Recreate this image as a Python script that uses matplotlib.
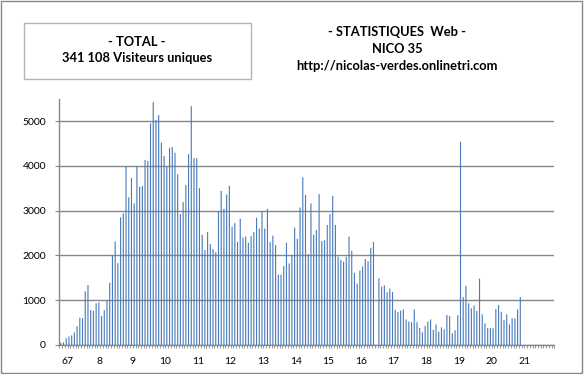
import matplotlib.pyplot as plt
from matplotlib.patches import Rectangle
import numpy as np

# monthly unique visitors (one bar per month, a zero where data is missing)
visits = [
    50, 60, 150, 190, 215, 280, 420, 610, 600, 1200,
    1340, 780, 760, 930, 950, 650, 780, 1000, 1390, 1990,
    2310, 1830, 2850, 2940, 3980, 3300, 3730, 3160, 3980, 3530,
    3550, 4130, 4110, 4950, 5420, 5020, 5130, 4520, 4220, 3980,
    4400, 4420, 4290, 3810, 2920, 3190, 3570, 4260, 5330, 4170,
    4170, 3500, 2460, 2120, 2520, 2250, 2140, 2070, 2980, 3440,
    3040, 3360, 3550, 2640, 2720, 2300, 2820, 2400, 2420, 2280,
    2430, 2520, 2840, 2600, 2980, 2600, 3040, 2300, 2440, 2230,
    1570, 1570, 1760, 2280, 1820, 2010, 2620, 2370, 3070, 3740,
    3350, 2030, 3160, 2460, 2570, 3370, 2320, 2340, 2680, 2920,
    3330, 2680, 1970, 1900, 1860, 1970, 2420, 2100, 1610, 1370,
    1660, 1750, 1920, 1870, 2170, 2300, 0, 1490, 1300, 1330,
    1180, 1260, 1180, 785, 735, 770, 795, 570, 525, 510,
    795, 510, 380, 285, 425, 525, 570, 340, 460, 295,
    395, 350, 670, 645, 260, 330, 665, 4540, 1070, 1320,
    930, 820, 880, 760, 1480, 685, 485, 380, 375, 375,
    800, 890, 740, 560, 685, 460, 595, 595, 795, 1070,
]
year_labels = ["67", "8", "9", "10", "11", "12", "13", "14",
               "15", "16", "17", "18", "19", "20", "21"]
n_slots = 182

plt.rcParams['font.family'] = ['Lato', 'DejaVu Sans']

fig = plt.figure(figsize=(5.84, 3.74), dpi=100)
fig.patch.set_facecolor('w')
ax = fig.add_axes([58.6 / 584, 29 / 374, 495.7 / 584, 246.4 / 374])

grey = '#878787'
x = np.arange(len(visits))
ax.bar(x, visits, width=0.42, color='#4a7bbb', linewidth=0, snap=False, zorder=3)

ax.set_xlim(-0.8, n_slots - 0.5)
ax.set_ylim(0, 5500)
ax.set_yticks(np.arange(0, 5001, 1000))
ax.yaxis.grid(True, color=grey, linewidth=1.0)
ax.set_axisbelow(True)

# year labels every 12 months, small marks at each month boundary
ax.set_xticks(2.4 + 12 * np.arange(len(year_labels)))
ax.set_xticklabels(year_labels)
ax.set_xticks(np.arange(-0.5, n_slots, 1), minor=True)
ax.tick_params(axis='x', which='major', length=0, pad=9, labelsize=7.5)
ax.tick_params(axis='x', which='minor', length=2.5, width=0.6, color=grey)
ax.tick_params(axis='y', length=3, width=0.8, color=grey, pad=6, labelsize=7.5)

for side in ['top', 'right']:
    ax.spines[side].set_visible(False)
for side in ['left', 'bottom']:
    ax.spines[side].set_color(grey)
    ax.spines[side].set_linewidth(1.0)

# header: boxed total on the left, site info on the right
box = Rectangle((24 / 584, 1 - 79 / 374), 227 / 584, 56 / 374,
                transform=fig.transFigure, fill=False, ec='#b4b4b4', lw=1.0)
fig.patches.append(box)
hdr = dict(ha='center', va='center', fontsize=9.3, fontweight='bold')
fig.text(137 / 584, 1 - 42 / 374, "- TOTAL -", **hdr)
fig.text(137 / 584, 1 - 58 / 374, "341 108 Visiteurs uniques", **hdr)
fig.text(397 / 584, 1 - 32 / 374, "- STATISTIQUES  Web -", **hdr)
fig.text(397 / 584, 1 - 49 / 374, "NICO 35", **hdr)
fig.text(397 / 584, 1 - 66 / 374, "http://nicolas-verdes.onlinetri.com", **hdr)

# outer chart border
border = Rectangle((0.5 / 584, 1.5 / 374), 581 / 584, 371.5 / 374,
                   transform=fig.transFigure, fill=False, ec=grey, lw=1.0)
fig.patches.append(border)

plt.savefig('out.png', dpi=100)
